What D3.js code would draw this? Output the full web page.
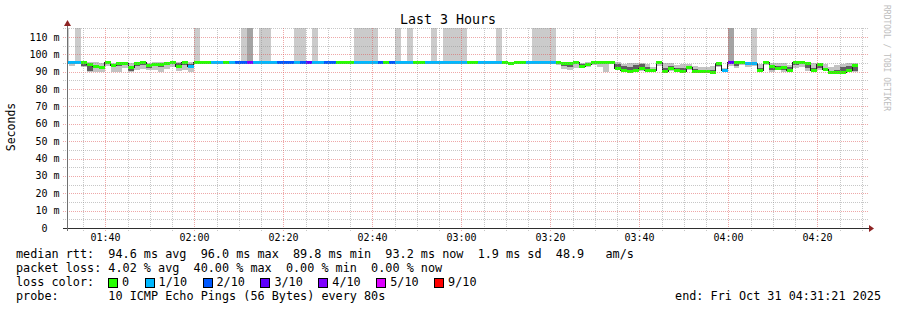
<!DOCTYPE html>
<html>
<head>
<meta charset="utf-8">
<script src="https://cdn.jsdelivr.net/npm/d3@7"></script>
<style>
  body { margin: 0; background: #fff; }
  svg text { font-family: "DejaVu Sans Mono", monospace; white-space: pre; }
</style>
</head>
<body>
<svg id="chart" width="897" height="310"></svg>
<script>
// --- Data (one entry per 80 s RRD step, ms) ---
const firstStep = "2025-10-31 01:30:28";
const chartStart = "2025-10-31 01:31:21";
const chartEnd = "2025-10-31 04:31:21";
const stepSeconds = 80;

const median = [
  95.6, 95.6, 95.6, 95.2, 94.1, 92.9, 92.3, 95.6, 93.5, 94.9,
  94.9, 92.3, 94.9, 95.2, 93.5, 94.1, 94.1, 94.9, 95.6, 93.2,
  95.2, 93.2, 95.6, 95.6, 95.6, 95.6, 95.6, 95.6, 95.6, 95.6,
  95.6, 95.6, 95.6, 95.6, 95.6, 95.6, 95.6, 95.6, 95.6, 95.6,
  95.6, 95.6, 95.6, 95.6, 95.6, 95.6, 95.6, 95.6, 95.6, 95.6,
  95.6, 95.6, 95.6, 95.6, 95.6, 95.6, 95.6, 95.6, 95.6, 95.6,
  95.6, 95.6, 95.6, 95.6, 95.6, 95.6, 95.6, 95.6, 95.6, 95.6,
  95.6, 95.6, 95.6, 95.6, 95.6, 95.0, 95.6, 95.6, 95.6, 95.6,
  95.6, 95.6, 95.6, 95.4, 95.0, 94.7, 95.2, 93.3, 94.3, 95.6,
  95.6, 95.2, 95.6, 91.8, 90.8, 90.2, 91.0, 91.8, 90.8, 90.6,
  95.4, 90.0, 91.8, 91.0, 90.0, 92.5, 90.2, 90.0, 90.0, 89.8,
  94.6, 90.6, 95.4, 95.6, 95.6, 94.9, 94.9, 90.6, 95.4, 93.1,
  92.0, 92.4, 90.8, 95.4, 95.4, 94.6, 90.6, 93.9, 91.2, 89.8,
  89.8, 89.8, 90.5, 93.5, null, null
];

// lost pings out of 10
const loss = [
  1, 1, 1, 0, 0, 0, 0, 0, 0, 0,
  0, 0, 0, 0, 0, 0, 0, 0, 0, 0,
  0, 1, 0, 0, 0, 1, 1, 0, 1, 2,
  2, 4, 1, 1, 1, 1, 2, 2, 2, 1,
  2, 3, 1, 1, 2, 2, 0, 0, 0, 1,
  1, 1, 1, 2, 0, 2, 1, 1, 1, 0,
  0, 1, 1, 1, 1, 1, 1, 1, 0, 0,
  1, 1, 1, 1, 0, 0, 0, 0, 1, 1,
  1, 1, 1, 0, 0, 0, 0, 0, 0, 0,
  0, 0, 0, 0, 0, 0, 0, 0, 0, 0,
  0, 0, 0, 0, 0, 0, 0, 0, 0, 0,
  0, 1, 3, 0, 0, 1, 1, 0, 0, 0,
  0, 0, 0, 0, 0, 0, 0, 0, 0, 0,
  0, 0, 0, 0, null, null
];

// outer smoke (lightest)
const smokeLo = [
  null, 93.5, null, 93.0, 90.0, 90.0, 90.0, 93.5, 90.0, 90.0,
  92.0, 90.0, 91.0, 91.5, 91.0, 91.0, 90.0, 91.5, 93.0, 90.5,
  91.0, 90.0, null, null, 94.6, null, null, null, null, null,
  null, null, null, null, null, null, null, null, null, null,
  null, null, null, null, null, null, null, null, null, null,
  null, null, null, null, null, null, null, null, null, null,
  null, null, null, null, null, null, null, null, null, null,
  null, null, 94.5, null, null, 94.6, null, null, null, null,
  null, null, null, 94.0, 91.8, 91.0, 92.0, 92.0, 92.5, 94.0,
  93.0, 90.0, 94.2, 91.0, 90.4, 90.0, 90.2, 90.6, 90.2, 90.2,
  93.4, 89.9, 90.6, 90.2, 89.9, 91.0, 90.0, 89.9, 89.8, 89.6,
  92.6, 90.4, 93.5, 92.0, 93.8, 92.6, 93.4, 90.4, 94.0, 90.0,
  91.0, 90.0, 90.0, 92.0, 92.6, 90.6, 90.2, 91.0, 90.2, 89.6,
  89.6, 89.6, 89.8, 89.8, null, null
];
const smokeHi = [
  null, 95.6, null, 95.6, 95.4, 95.4, 94.9, 95.6, 95.0, 95.5,
  95.6, 95.2, 95.2, 96.0, 95.2, 95.4, 95.4, 95.6, 96.0, 95.4,
  95.6, 95.4, null, null, 95.6, null, null, null, null, null,
  null, null, null, null, null, null, null, null, null, null,
  null, null, null, null, null, null, null, null, null, null,
  null, null, null, null, null, null, null, null, null, null,
  null, null, null, null, null, null, null, null, null, null,
  null, null, 95.6, null, null, 95.6, null, null, null, null,
  null, null, null, 95.6, 95.4, 95.3, 95.6, 95.2, 95.4, 95.8,
  95.8, 95.6, 95.8, 95.4, 94.6, 94.8, 95.2, 95.0, 94.4, 92.8,
  95.8, 95.0, 94.8, 93.8, 94.6, 94.6, 93.4, 92.6, 93.0, 93.2,
  95.2, 92.0, 95.4, 95.8, 95.8, 95.2, 94.9, 94.4, 95.8, 95.0,
  95.2, 94.8, 94.0, 95.8, 95.6, 95.2, 94.8, 95.0, 94.2, 92.6,
  94.0, 94.2, 94.8, 94.8, null, null
];

// dense core of the smoke (darkest)
const coreLo = [
  null, null, null, 93.6, 90.2, 92.0, 91.4, null, 92.6, 93.4,
  94.0, 90.2, 93.6, 94.0, 92.4, 93.2, 92.8, 93.8, 94.8, 92.6,
  93.8, 92.4, null, null, null, null, null, null, null, null,
  null, null, null, null, null, null, null, null, null, null,
  null, null, null, null, null, null, null, null, null, null,
  null, null, null, null, null, null, null, null, null, null,
  null, null, null, null, null, null, null, null, null, null,
  null, null, null, null, null, null, null, null, null, null,
  null, null, null, null, 93.6, 92.6, null, 92.6, 93.6, null,
  null, 94.2, null, 91.8, 90.8, 90.2, 91.0, 91.6, 90.6, null,
  94.6, 90.0, 91.6, 90.8, 90.0, 92.0, 90.2, 90.0, null, 89.8,
  93.6, null, null, 93.6, null, null, null, 90.6, 94.6, 90.8,
  92.0, 90.8, 90.8, 94.0, 94.4, 92.2, 90.6, 92.2, 91.0, 89.8,
  89.8, 89.8, 90.4, 90.4, null, null
];
const coreHi = [
  null, null, null, 95.0, 94.0, 93.4, 93.0, null, 94.6, 95.0,
  95.0, 93.0, 95.0, 95.4, 94.2, 94.8, 94.6, 95.2, 95.6, 95.0,
  95.2, 94.6, null, null, null, null, null, null, null, null,
  null, null, null, null, null, null, null, null, null, null,
  null, null, null, null, null, null, null, null, null, null,
  null, null, null, null, null, null, null, null, null, null,
  null, null, null, null, null, null, null, null, null, null,
  null, null, null, null, null, null, null, null, null, null,
  null, null, null, null, 95.0, 94.7, null, 94.3, 94.8, null,
  null, 95.2, null, 94.4, 93.2, 92.6, 93.8, 94.2, 93.0, null,
  95.4, 92.4, 93.6, 92.4, 92.0, 93.2, 91.6, 91.2, null, 90.8,
  94.6, null, null, 95.0, null, null, null, 92.0, 95.4, 93.1,
  93.6, 92.4, 92.6, 95.4, 95.4, 94.6, 92.4, 93.9, 92.0, 90.6,
  91.0, 92.6, 93.2, 93.5, null, null
];

// pings above the top of the graph in each step
const overTop = [
  1, 0, 1, 0, 0, 0, 0, 0, 0, 0,
  0, 0, 0, 0, 0, 0, 0, 0, 0, 0,
  0, 0, 1, 0, 0, 0, 0, 0, 0, 0,
  1, 2, 0, 1, 1, 0, 0, 0, 0, 1,
  1, 0, 1, 0, 0, 0, 0, 0, 0, 1,
  1, 1, 1, 0, 0, 0, 1, 0, 1, 0,
  0, 0, 1, 0, 1, 1, 1, 1, 0, 0,
  0, 0, 0, 1, 0, 0, 0, 0, 0, 1,
  1, 1, 1, 0, 0, 0, 0, 0, 0, 0,
  0, 0, 0, 0, 0, 0, 0, 0, 0, 0,
  0, 0, 0, 0, 0, 0, 0, 0, 0, 0,
  0, 0, 2, 0, 0, 0, 1, 0, 0, 0,
  0, 0, 0, 0, 0, 0, 0, 0, 0, 0,
  0, 0, 0, 0, 0, 0
];

const lossLabels = ["0", "1/10", "2/10", "3/10", "4/10", "5/10", "9/10"];
const lossLevels = [0, 1, 2, 3, 4, 5, 9];
const lossColors = ["#26ff00", "#00b8ff", "#0059ff", "#5e00ff", "#7e00ff", "#dd00ff", "#ff0000"];

const yTicks = [0, 10, 20, 30, 40, 50, 60, 70, 80, 90, 100, 110];

const statsLines = [
  "median rtt:  94.6 ms avg  96.0 ms max  89.8 ms min  93.2 ms now  1.9 ms sd  48.9   am/s",
  "packet loss: 4.02 % avg  40.00 % max  0.00 % min  0.00 % now"
];
const probeText = "probe:       10 ICMP Echo Pings (56 Bytes) every 80s";
const endText = "end: Fri Oct 31 04:31:21 2025";

// --- Layout ---
const svg = d3.select("#chart");
const plotLeft = 67, plotRight = 868, plotTop = 28, plotBottom = 228;

const parse = d3.timeParse("%Y-%m-%d %H:%M:%S");
const x = d3.scaleTime().domain([parse(chartStart), parse(chartEnd)]).range([plotLeft, plotRight]);
const y = d3.scaleLinear().domain([0, 115.2]).range([plotBottom, plotTop]);

const t0 = parse(firstStep);
const steps = median.map((m, i) => ({
  a: d3.timeSecond.offset(t0, i * stepSeconds),
  b: d3.timeSecond.offset(t0, (i + 1) * stepSeconds),
  med: m, loss: loss[i], lo: smokeLo[i], hi: smokeHi[i],
  clo: coreLo[i], chi: coreHi[i], over: overTop[i]
}));

function lossColor(l) {
  let c = lossColors[0];
  lossLevels.forEach((lv, i) => { if (l >= lv) c = lossColors[i]; });
  return c;
}

svg.append("rect").attr("width", 897).attr("height", 310).attr("fill", "#fff");

svg.append("clipPath").attr("id", "plot")
  .append("rect").attr("x", plotLeft).attr("y", plotTop)
  .attr("width", plotRight - plotLeft).attr("height", plotBottom - plotTop);

const plot = svg.append("g").attr("clip-path", "url(#plot)")
  .attr("shape-rendering", "crispEdges");

// tall bars: pings above the graph top
plot.selectAll("rect.over")
  .data(steps.filter(d => d.over > 0 && d.med != null))
  .join("rect")
  .attr("class", "over")
  .attr("x", d => x(d.a)).attr("width", d => x(d.b) - x(d.a))
  .attr("y", plotTop).attr("height", d => y(d.med) - plotTop)
  .attr("fill", d => d.over > 1 ? "#a4a4a4" : "#cbcbcb");

// smoke
plot.selectAll("rect.smoke")
  .data(steps.filter(d => d.lo != null))
  .join("rect")
  .attr("class", "smoke")
  .attr("x", d => x(d.a)).attr("width", d => x(d.b) - x(d.a))
  .attr("y", d => y(d.hi)).attr("height", d => y(d.lo) - y(d.hi))
  .attr("fill", "#c3c3c3");

plot.selectAll("rect.core")
  .data(steps.filter(d => d.clo != null))
  .join("rect")
  .attr("class", "core")
  .attr("x", d => x(d.a)).attr("width", d => x(d.b) - x(d.a))
  .attr("y", d => y(d.chi)).attr("height", d => y(d.clo) - y(d.chi))
  .attr("fill", "#5f5f5f");

// --- Grid (drawn over the graph like rrdtool) ---
const grid = svg.append("g").attr("shape-rendering", "crispEdges");
const minorColor = "rgba(143,143,143,0.5)";
const majorColor = "rgba(222,81,81,0.5)";

const minorY = d3.range(5, 116, 5).filter(v => v % 10 !== 0);
grid.selectAll("line.hmin").data(minorY).join("line")
  .attr("x1", plotLeft - 4).attr("x2", plotRight)
  .attr("y1", d => Math.round(y(d)) + 0.5).attr("y2", d => Math.round(y(d)) + 0.5)
  .attr("stroke", minorColor).attr("stroke-dasharray", "1,1");

const minorX = x.ticks(d3.timeMinute.every(5)).filter(t => t.getMinutes() % 20 !== 0);
grid.selectAll("line.vmin").data(minorX).join("line")
  .attr("x1", d => Math.round(x(d)) + 0.5).attr("x2", d => Math.round(x(d)) + 0.5)
  .attr("y1", plotTop).attr("y2", plotBottom + 3)
  .attr("stroke", minorColor).attr("stroke-dasharray", "1,1");

grid.selectAll("line.hmaj").data(yTicks.filter(v => v > 0)).join("line")
  .attr("x1", plotLeft - 4).attr("x2", plotRight)
  .attr("y1", d => Math.round(y(d)) + 0.5).attr("y2", d => Math.round(y(d)) + 0.5)
  .attr("stroke", majorColor).attr("stroke-dasharray", "1,1");

const majorX = x.ticks(d3.timeMinute.every(20));
grid.selectAll("line.vmaj").data(majorX).join("line")
  .attr("x1", d => Math.round(x(d)) + 0.5).attr("x2", d => Math.round(x(d)) + 0.5)
  .attr("y1", plotTop).attr("y2", plotBottom + 3)
  .attr("stroke", majorColor).attr("stroke-dasharray", "1,1");

// --- Median line and loss colored bands ---
const pts = [];
steps.forEach(d => {
  if (d.med == null) { pts.push({ t: d.a, v: null }); return; }
  pts.push({ t: d.a, v: d.med }, { t: d.b, v: d.med });
});
const medLine = d3.line().defined(d => d.v != null).x(d => x(d.t)).y(d => y(d.v));
plot.append("path").attr("d", medLine(pts))
  .attr("fill", "none").attr("stroke", "#202020").attr("stroke-width", 1)
  .attr("shape-rendering", "crispEdges");

plot.selectAll("rect.med")
  .data(steps.filter(d => d.med != null))
  .join("rect")
  .attr("class", "med")
  .attr("x", d => x(d.a)).attr("width", d => x(d.b) - x(d.a))
  .attr("y", d => y(d.med) - 1.5).attr("height", 3)
  .attr("fill", d => lossColor(d.loss));

// --- Axes ---
svg.append("line").attr("x1", plotLeft - 4).attr("x2", plotRight + 2)
  .attr("y1", plotBottom + 0.5).attr("y2", plotBottom + 0.5)
  .attr("stroke", "#2e2e2e");
svg.append("line").attr("x1", plotLeft + 0.5).attr("x2", plotLeft + 0.5)
  .attr("y1", plotBottom + 3).attr("y2", plotTop - 5)
  .attr("stroke", "#707070");
svg.append("path").attr("d", `M${plotRight + 1},${plotBottom - 3} L${plotRight + 6},${plotBottom + 0.5} L${plotRight + 1},${plotBottom + 4} Z`)
  .attr("fill", "#8e2424");
svg.append("path").attr("d", `M${plotLeft - 3},${plotTop - 2} L${plotLeft + 0.5},${plotTop - 8} L${plotLeft + 4},${plotTop - 2} Z`)
  .attr("fill", "#8e2424");

svg.append("g").selectAll("text").data(yTicks).join("text")
  .attr("x", 59.5).attr("y", d => y(d) + 3.5)
  .attr("text-anchor", "end").attr("font-size", "10px").attr("fill", "#000")
  .text(d => d === 0 ? "0  " : `${d} m`);

svg.append("g").selectAll("text").data(majorX).join("text")
  .attr("x", d => x(d)).attr("y", 241)
  .attr("text-anchor", "middle").attr("font-size", "10px").attr("fill", "#000")
  .text(d => d3.timeFormat("%H:%M")(d));

// --- Titles ---
svg.append("text").attr("x", 448).attr("y", 24).attr("text-anchor", "middle")
  .attr("font-size", "13.3px").text("Last 3 Hours");

svg.append("text").attr("transform", "translate(15,127) rotate(-90)")
  .attr("text-anchor", "middle").attr("font-size", "11.5px").text("Seconds");

svg.append("text").attr("transform", "translate(884,5) rotate(90)")
  .attr("font-size", "8px").attr("fill", "#bdbdbd").text("RRDTOOL / TOBI OETIKER");

// --- Legend ---
const fs = "11.8px", cw = 7.1, lx = 16;
statsLines.forEach((s, i) => {
  svg.append("text").attr("x", lx).attr("y", 258 + i * 14).attr("font-size", fs).text(s);
});
svg.append("text").attr("x", lx).attr("y", 286).attr("font-size", fs).text("loss color:");
let sx = 108;
lossLabels.forEach((lab, i) => {
  svg.append("rect").attr("x", sx + 0.5).attr("y", 278.5).attr("width", 9).attr("height", 9)
    .attr("fill", lossColors[i]).attr("stroke", "#000").attr("shape-rendering", "crispEdges");
  svg.append("text").attr("x", sx + 14).attr("y", 286).attr("font-size", fs).text(lab);
  sx += 14 + lab.length * cw + 15.5;
});
svg.append("text").attr("x", lx).attr("y", 300).attr("font-size", fs).text(probeText);
svg.append("text").attr("x", 881).attr("y", 300).attr("text-anchor", "end")
  .attr("font-size", fs).text(endText);
</script>
</body>
</html>
